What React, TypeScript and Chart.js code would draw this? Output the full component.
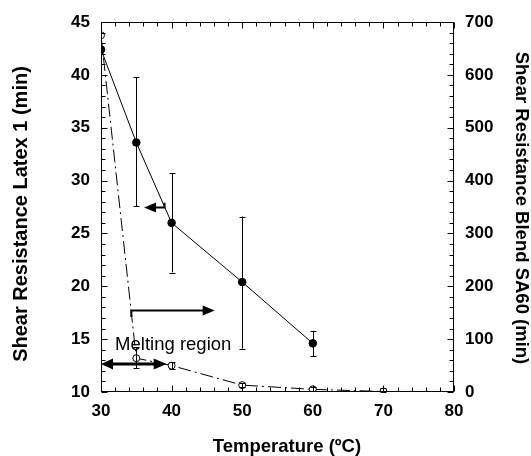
import React, { useEffect, useRef } from "react";
import { Chart, registerables } from "chart.js";

Chart.register(...registerables);

// Latex 1 shear resistance (left axis, minutes)
const latexTemps = [30, 35, 40, 50, 60];
const latexMean = [42.4, 33.6, 26.0, 20.4, 14.6];
const latexLow = [42.4, 27.6, 21.3, 14.1, 13.4];
const latexHigh = [42.4, 39.8, 30.7, 26.6, 15.8];

// Blend SA60 shear resistance (right axis, minutes)
const blendTemps = [30, 35, 40, 50, 60, 70];
const blendMean = [675, 64, 50, 13, 5, 1];
const blendLow = [675, 45, 44, 9, 1, 0];
const blendHigh = [675, 85, 56, 17, 9, 8];

// Axis ranges
const xRange = [30, 80];
const xStep = 10;
const xMinor = 2;
const leftRange = [10, 45];
const leftStep = 5;
const leftMinor = 1;
const rightRange = [0, 700];
const rightStep = 100;
const rightMinor = 20;

// Axis titles
const xTitle = "Temperature (ºC)";
const leftTitle = "Shear Resistance Latex 1 (min)";
const rightTitle = "Shear Resistance Blend SA60 (min)";

// Annotations (data coordinates)
const meltingSpan = [30, 39.3];
const meltingArrowY = 12.65;
const meltingLabel = "Melting region";
const meltingLabelAt = [32, 14.45];
const toRightArrow = { from: 34.3, to: 46.1, y: 17.7, hookY: 17.1 };
const toLeftArrow = { from: 39.0, to: 36.1, y: 27.46, hookY: 27.9 };

const FONT = "'Liberation Sans', Arial, Helvetica, sans-serif";

function drawArrowHead(ctx: CanvasRenderingContext2D, tipX: number, y: number, dir: number, len: number, half: number) {
  ctx.beginPath();
  ctx.moveTo(tipX, y);
  ctx.lineTo(tipX - dir * len, y - half);
  ctx.lineTo(tipX - dir * len, y + half);
  ctx.closePath();
  ctx.fill();
}

const errorBars = {
  id: "errorBars",
  afterDatasetsDraw(chart: any) {
    const { ctx, scales } = chart;
    const x = scales.x;
    ctx.save();
    ctx.strokeStyle = "#000";
    ctx.lineWidth = 1;
    const draw = (temps: number[], lo: number[], hi: number[], y: any) => {
      temps.forEach((t, i) => {
        if (hi[i] === lo[i]) return;
        const px = Math.round(x.getPixelForValue(t)) + 0.5;
        const p1 = y.getPixelForValue(Math.max(lo[i], y.min));
        const p2 = y.getPixelForValue(hi[i]);
        ctx.beginPath();
        ctx.moveTo(px, p1);
        ctx.lineTo(px, p2);
        ctx.moveTo(px - 3, Math.round(p2) + 0.5);
        ctx.lineTo(px + 3, Math.round(p2) + 0.5);
        if (lo[i] >= y.min) {
          ctx.moveTo(px - 3, Math.round(p1) + 0.5);
          ctx.lineTo(px + 3, Math.round(p1) + 0.5);
        }
        ctx.stroke();
      });
    };
    draw(latexTemps, latexLow, latexHigh, scales.yL);
    draw(blendTemps, blendLow, blendHigh, scales.yR);
    ctx.restore();
  },
};

const frameAndNotes = {
  id: "frameAndNotes",
  afterDraw(chart: any) {
    const { ctx, chartArea: a, scales } = chart;
    const x = scales.x;
    const yL = scales.yL;
    const yR = scales.yR;
    ctx.save();
    ctx.strokeStyle = "#000";
    ctx.fillStyle = "#000";
    ctx.lineWidth = 1;
    const L = Math.round(a.left) + 0.5;
    const R = Math.round(a.right) - 0.5;
    const T = Math.round(a.top) + 0.5;
    const B = Math.round(a.bottom) - 0.5;
    ctx.strokeRect(L, T, R - L, B - T);

    ctx.beginPath();
    // bottom and top ticks
    for (let k = 0; k <= (xRange[1] - xRange[0]) / xMinor; k++) {
      const v = xRange[0] + k * xMinor;
      const px = Math.round(x.getPixelForValue(v)) + 0.5;
      const len = v % xStep === 0 ? 6 : 4;
      ctx.moveTo(px, B);
      ctx.lineTo(px, B - len);
      ctx.moveTo(px, T);
      ctx.lineTo(px, T + len);
    }
    // left ticks
    for (let k = 0; k <= (leftRange[1] - leftRange[0]) / leftMinor; k++) {
      const v = leftRange[0] + k * leftMinor;
      const py = Math.round(yL.getPixelForValue(v)) + 0.5;
      const len = v % leftStep === 0 ? 6 : 4;
      ctx.moveTo(L, py);
      ctx.lineTo(L + len, py);
    }
    // right ticks
    for (let k = 0; k <= (rightRange[1] - rightRange[0]) / rightMinor; k++) {
      const v = rightRange[0] + k * rightMinor;
      const py = Math.round(yR.getPixelForValue(v)) + 0.5;
      const len = v % rightStep === 0 ? 6 : 4;
      ctx.moveTo(R, py);
      ctx.lineTo(R - len, py);
    }
    ctx.stroke();

    // melting region double arrow
    const mx1 = x.getPixelForValue(meltingSpan[0]);
    const mx2 = x.getPixelForValue(meltingSpan[1]);
    const my = yL.getPixelForValue(meltingArrowY);
    ctx.lineWidth = 3;
    ctx.beginPath();
    ctx.moveTo(mx1 + 8, my);
    ctx.lineTo(mx2 - 8, my);
    ctx.stroke();
    drawArrowHead(ctx, mx1, my, -1, 12, 5.5);
    drawArrowHead(ctx, mx2, my, 1, 13, 5.5);

    // arrow pointing to the right axis
    ctx.lineWidth = 2;
    const ra1 = x.getPixelForValue(toRightArrow.from);
    const ra2 = x.getPixelForValue(toRightArrow.to);
    const ray = yL.getPixelForValue(toRightArrow.y);
    const rah = yL.getPixelForValue(toRightArrow.hookY);
    ctx.beginPath();
    ctx.moveTo(ra1, rah);
    ctx.lineTo(ra1, ray);
    ctx.lineTo(ra2 - 8, ray);
    ctx.stroke();
    drawArrowHead(ctx, ra2, ray, 1, 12, 5);

    // arrow pointing to the left axis
    const la1 = x.getPixelForValue(toLeftArrow.from);
    const la2 = x.getPixelForValue(toLeftArrow.to);
    const lay = yL.getPixelForValue(toLeftArrow.y);
    const lah = yL.getPixelForValue(toLeftArrow.hookY);
    ctx.beginPath();
    ctx.moveTo(la1, lah);
    ctx.lineTo(la1, lay);
    ctx.lineTo(la2 + 8, lay);
    ctx.stroke();
    drawArrowHead(ctx, la2, lay, -1, 12, 5);

    // region label
    ctx.font = `18.5px ${FONT}`;
    ctx.textAlign = "left";
    ctx.textBaseline = "middle";
    ctx.fillText(meltingLabel, x.getPixelForValue(meltingLabelAt[0]), yL.getPixelForValue(meltingLabelAt[1]));

    // axis titles
    ctx.textAlign = "center";
    ctx.font = `bold 18.5px ${FONT}`;
    ctx.fillText(xTitle, 287, 447);

    ctx.save();
    ctx.translate(21.5, 214);
    ctx.rotate(-Math.PI / 2);
    ctx.font = `bold 20px ${FONT}`;
    ctx.fillText(leftTitle, 0, 0);
    ctx.restore();

    ctx.save();
    ctx.translate(521, 208);
    ctx.rotate(Math.PI / 2);
    ctx.font = `bold 18.5px ${FONT}`;
    ctx.fillText(rightTitle, 0, 0);
    ctx.restore();

    ctx.restore();
  },
};

export default function App() {
  const ref = useRef<HTMLCanvasElement>(null);

  useEffect(() => {
    const tickFont = { family: FONT, size: 17, weight: "bold" as const };
    const chart = new Chart(ref.current!, {
      type: "line",
      data: {
        datasets: [
          {
            label: "Latex 1",
            data: latexTemps.map((t, i) => ({ x: t, y: latexMean[i] })),
            yAxisID: "yL",
            borderColor: "#000",
            borderWidth: 1,
            pointRadius: 3.8,
            pointBackgroundColor: "#000",
            pointBorderColor: "#000",
            pointBorderWidth: 1,
            tension: 0,
          },
          {
            label: "Blend SA60",
            data: blendTemps.map((t, i) => ({ x: t, y: blendMean[i] })),
            yAxisID: "yR",
            borderColor: "#000",
            borderWidth: 1,
            borderDash: [13, 4, 2, 4],
            pointRadius: 3.5,
            pointBackgroundColor: "#fff",
            pointBorderColor: "#000",
            pointBorderWidth: 1,
            tension: 0,
          },
        ],
      },
      options: {
        animation: false,
        responsive: false,
        devicePixelRatio: 1,
        layout: { padding: { top: 22, left: 0, right: 0, bottom: 0 } },
        plugins: { legend: { display: false }, tooltip: { enabled: false } },
        scales: {
          x: {
            type: "linear",
            min: xRange[0],
            max: xRange[1],
            ticks: { stepSize: xStep, font: tickFont, color: "#000", padding: 9, maxRotation: 0 },
            grid: { display: false, drawTicks: false },
            border: { display: false },
            afterFit: (s: any) => { s.height = 64; },
          },
          yL: {
            type: "linear",
            position: "left",
            min: leftRange[0],
            max: leftRange[1],
            ticks: { stepSize: leftStep, font: tickFont, color: "#000", padding: 11 },
            grid: { display: false, drawTicks: false },
            border: { display: false },
            afterFit: (s: any) => { s.width = 101; },
          },
          yR: {
            type: "linear",
            position: "right",
            min: rightRange[0],
            max: rightRange[1],
            ticks: { stepSize: rightStep, font: tickFont, color: "#000", padding: 11 },
            grid: { display: false, drawTicks: false },
            border: { display: false },
            afterFit: (s: any) => { s.width = 77; },
          },
        },
      },
      plugins: [errorBars, frameAndNotes],
    } as any);
    return () => chart.destroy();
  }, []);

  return (
    <div style={{ position: "fixed", left: 0, top: 0, width: 531, height: 456, background: "#fff" }}>
      <canvas ref={ref} width={531} height={456} style={{ display: "block" }} />
    </div>
  );
}
